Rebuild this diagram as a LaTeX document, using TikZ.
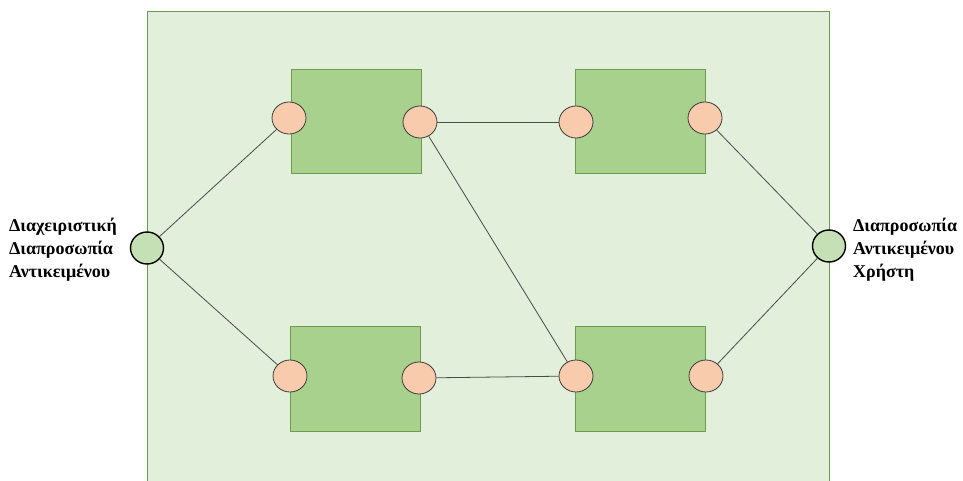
\documentclass[tikz,border=0pt]{standalone}
\usepackage{fontspec}
\setmainfont{Liberation Serif}
\usetikzlibrary{shapes.geometric}
\definecolor{panelfill}{HTML}{E2EFDA}
\definecolor{panelline}{HTML}{6C9A4E}
\definecolor{boxfill}{HTML}{A9D18E}
\definecolor{boxline}{HTML}{6C9A4E}
\definecolor{portfill}{HTML}{F8CBAD}
\definecolor{portline}{HTML}{3A3A3A}
\definecolor{ifacefill}{HTML}{C5E0B4}
\definecolor{wire}{HTML}{4A4A4A}
\tikzset{
  component/.style={draw=boxline, fill=boxfill, line width=0.9pt},
  port/.style={ellipse, draw=portline, fill=portfill, line width=0.8pt,
    minimum width=34pt, minimum height=32pt, inner sep=0pt},
  iface/.style={ellipse, draw=black, fill=ifacefill, line width=1.4pt,
    minimum width=33pt, minimum height=32pt, inner sep=0pt},
  wireline/.style={draw=wire, line width=0.8pt},
  caption/.style={align=left, inner sep=0pt, font=\bfseries\fontsize{18}{23}\selectfont}
}
\begin{document}
\begin{tikzpicture}[x=1pt, y=-1pt]
  \clip (0,0) rectangle (963,481);
  \fill[white] (0,0) rectangle (963,481);
  % surrounding panel (runs past the lower edge)
  \draw[draw=panelline, fill=panelfill, line width=0.9pt] (147,11) rectangle (829,500);

  % four components
  \draw[component] (291,69)  rectangle (421,173);
  \draw[component] (575,69)  rectangle (705,173);
  \draw[component] (290,326) rectangle (420,431);
  \draw[component] (575,326) rectangle (705,431);

  % external interfaces
  \node[iface] (inL) at (147,248) {};
  \node[iface] (outR) at (829,246) {};

  % ports on the components
  \node[port] (tlA) at (289,118) {};
  \node[port] (tlB) at (420,122) {};
  \node[port] (trA) at (576,122) {};
  \node[port] (trB) at (705,118) {};
  \node[port] (blA) at (290,376) {};
  \node[port] (blB) at (419,378) {};
  \node[port] (brA) at (576,376) {};
  \node[port] (brB) at (706,376) {};

  % connectors
  \draw[wireline] (inL) -- (tlA);
  \draw[wireline] (inL) -- (blA);
  \draw[wireline] (tlB) -- (trA);
  \draw[wireline] (tlB) -- (brA);
  \draw[wireline] (blB) -- (brA);
  \draw[wireline] (trB) -- (outR);
  \draw[wireline] (brB) -- (outR);

  % labels
  \node[caption, anchor=west] (lblL) at (9,250) {Διαχειριστική\\Διαπροσωπία\\Αντικειμένου};
  \node[caption, anchor=west] (lblR) at (853,250) {Διαπροσωπία\\Αντικειμένου\\Χρήστη};
\end{tikzpicture}
\end{document}
